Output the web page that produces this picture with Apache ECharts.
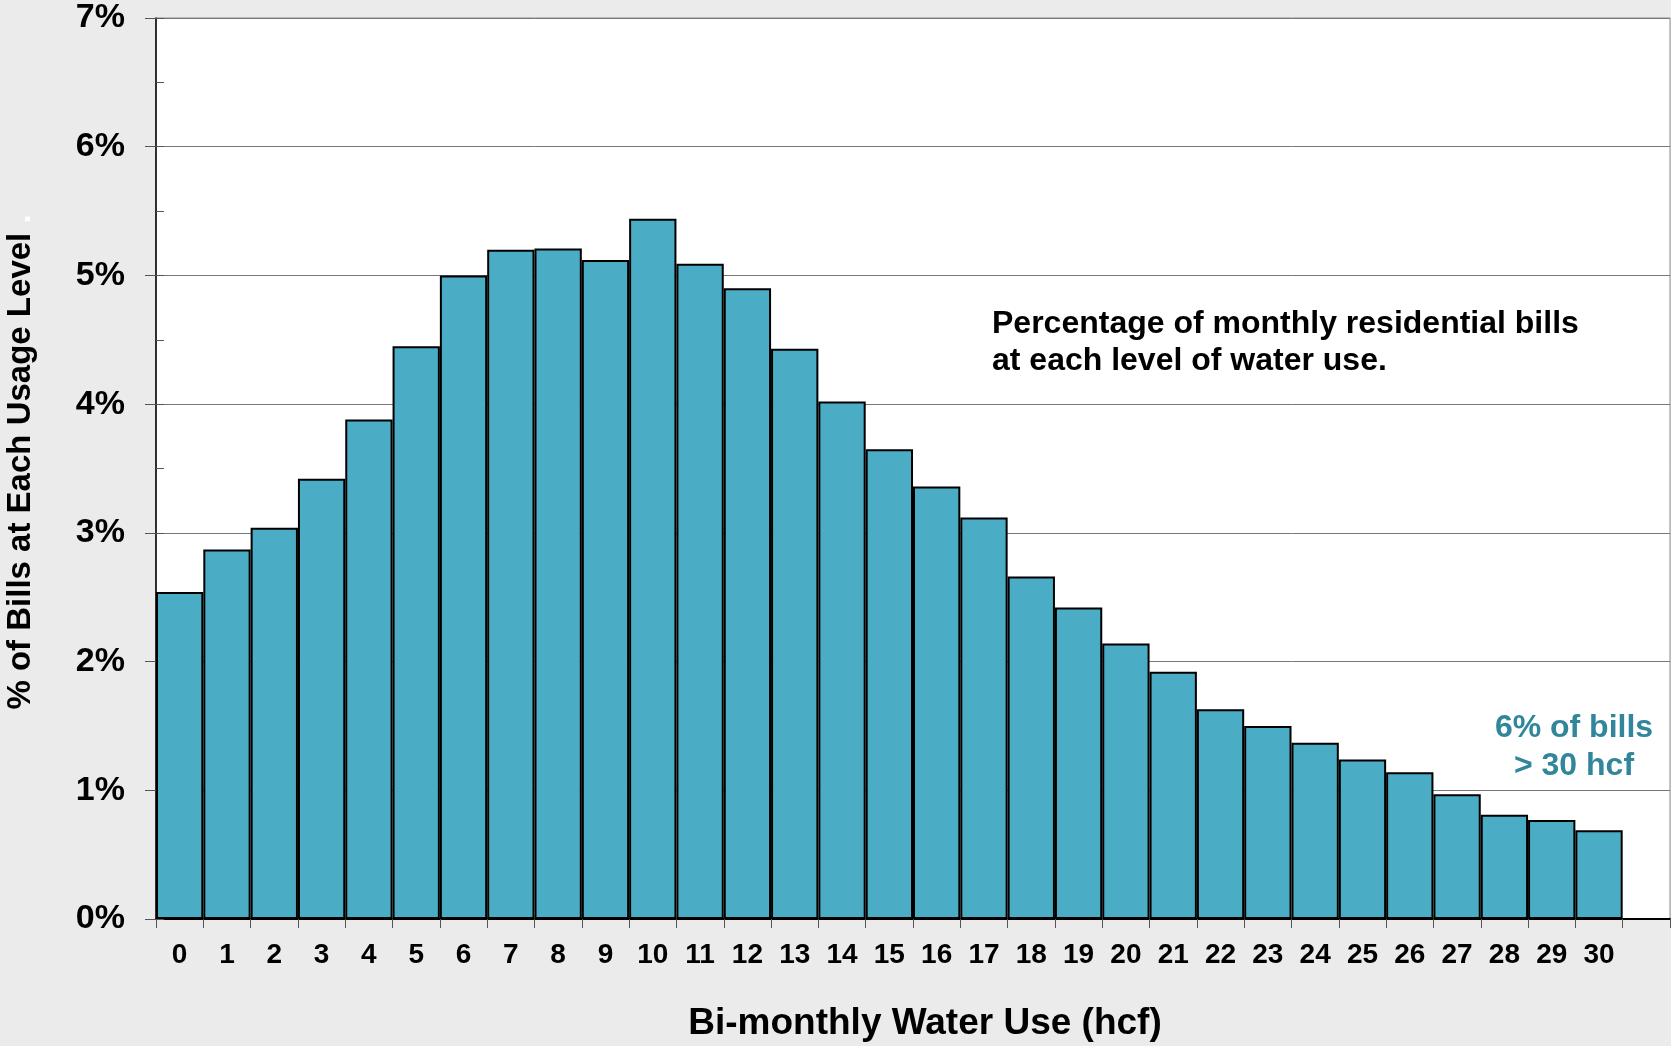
<!DOCTYPE html>
<html>
<head>
<meta charset="utf-8">
<script src="https://cdn.jsdelivr.net/npm/echarts@6/dist/echarts.min.js"></script>
<style>
html,body{margin:0;padding:0;background:#ebebeb;}
#c{width:1671px;height:1046px;}
</style>
</head>
<body>
<div id="c"></div>
<script>
var categories = ['0','1','2','3','4','5','6','7','8','9','10','11','12','13','14','15','16','17','18','19','20','21','22','23','24','25','26','27','28','29','30'];
var billPercent = [2.54, 2.87, 3.04, 3.42, 3.88, 4.45, 5.00, 5.20, 5.21, 5.12, 5.44, 5.09, 4.90, 4.43, 4.02, 3.65, 3.36, 3.12, 2.66, 2.42, 2.14, 1.92, 1.63, 1.50, 1.37, 1.24, 1.14, 0.97, 0.81, 0.77, 0.69];
var yTicks = [0, 1, 2, 3, 4, 5, 6, 7];
var xTitle = 'Bi-monthly Water Use (hcf)';
var yTitle = '% of Bills at Each Usage Level';
var noteMain = 'Percentage of monthly residential bills\nat each level of water use.';
var noteTail = '6% of bills\n> 30 hcf';

var FONT = "'Liberation Sans', Arial, sans-serif";
var chart = echarts.init(document.getElementById('c'), null, {renderer: 'canvas'});

var option = {
  backgroundColor: '#ebebeb',
  animation: false,
  grid: {
    left: 156, top: 18, right: 1, bottom: 127,
    show: true, backgroundColor: '#ffffff', borderColor: '#8c8c8c', borderWidth: 1,
    outerBoundsMode: 'none', containLabel: false
  },
  xAxis: {
    type: 'category',
    data: categories.concat(['']),
    boundaryGap: true,
    axisLine: {show: true, lineStyle: {color: '#000', width: 2}},
    axisTick: {show: true, length: 9, alignWithLabel: false, interval: 0, lineStyle: {color: '#555', width: 1}},
    axisLabel: {interval: 0, margin: 22, color: '#000', fontSize: 28, fontWeight: 'bold', fontFamily: FONT},
    splitLine: {show: false},
    name: xTitle,
    nameLocation: 'middle',
    nameGap: 86,
    nameTextStyle: {color: '#000', fontSize: 37, fontWeight: 'bold', fontFamily: FONT, padding: [0, 0, 0, 24]}
  },
  yAxis: [{
    type: 'value',
    min: yTicks[0], max: yTicks[yTicks.length - 1], interval: 1,
    axisLine: {show: true, lineStyle: {color: '#000', width: 1.5}},
    axisTick: {show: true, length: 11, lineStyle: {color: '#555', width: 1}},
    axisLabel: {margin: 31, color: '#000', fontSize: 34, fontWeight: 'bold', fontFamily: FONT, formatter: '{value}%'},
    splitLine: {show: true, lineStyle: {color: '#777', width: 1}},
    name: yTitle + '{w| .}',
    nameLocation: 'middle',
    nameRotate: 90,
    nameGap: 119,
    nameTextStyle: {color: '#000', fontSize: 33, fontWeight: 'bold', fontFamily: FONT, padding: [0, 0, 0, 13],
      rich: {w: {color: '#ffffff', fontSize: 33, fontWeight: 'bold', fontFamily: FONT}}}
  }, {
    type: 'value',
    position: 'left',
    min: yTicks[0], max: yTicks[yTicks.length - 1], interval: 0.5,
    axisLine: {show: false},
    axisTick: {show: true, inside: true, length: 8, lineStyle: {color: '#555', width: 1}},
    axisLabel: {show: false},
    splitLine: {show: false}
  }],
  series: [{
    type: 'bar',
    yAxisIndex: 0,
    data: billPercent,
    barWidth: '100%',
    barCategoryGap: '0%',
    itemStyle: {color: '#4bacc6', borderColor: '#000', borderWidth: 2}
  }],
  graphic: [{
    type: 'text',
    left: 992, top: 306,
    style: {text: noteMain, fill: '#000', font: 'bold 32px ' + FONT, lineHeight: 37, textAlign: 'left'}
  }, {
    type: 'text',
    x: 1574, y: 709,
    style: {text: noteTail, fill: '#31869b', font: 'bold 32px ' + FONT, lineHeight: 38, textAlign: 'center', textVerticalAlign: 'top'}
  }]
};
chart.setOption(option);
</script>
</body>
</html>
